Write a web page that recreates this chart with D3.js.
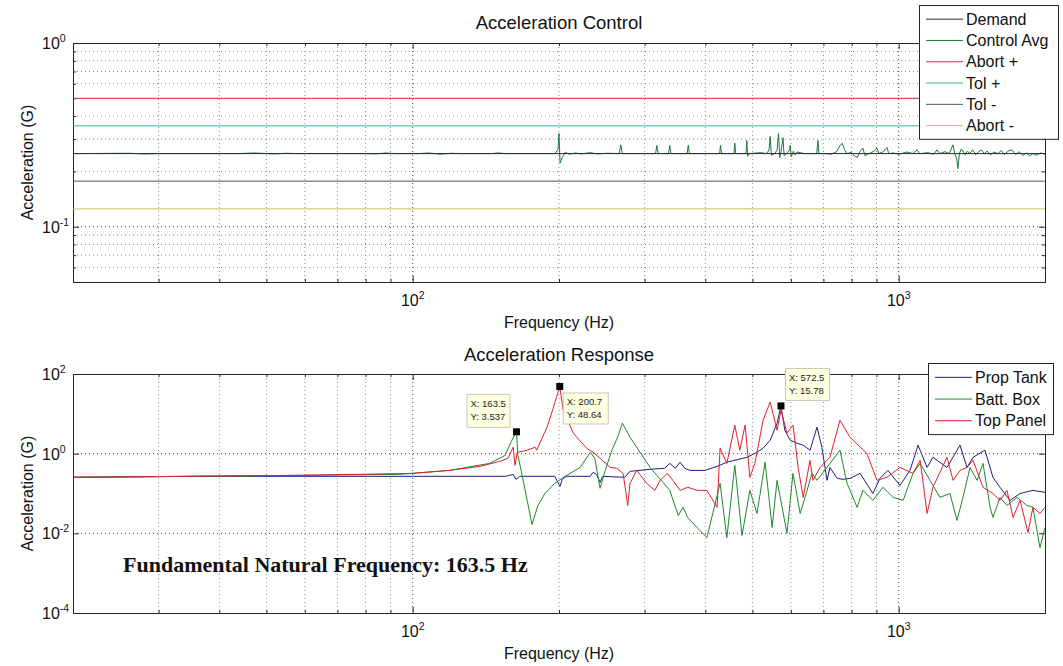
<!DOCTYPE html>
<html lang="en">
<head>
<meta charset="UTF-8">
<title>Acceleration Control / Acceleration Response</title>
<style>
  body { margin: 0; background: #fff; }
  svg { display: block; font-family: "Liberation Sans", Arial, sans-serif; }
  .grid { stroke: #8a8a8a; stroke-dasharray: 1,3; stroke-width: 1; }
  .grid-major { stroke: #444; stroke-dasharray: 1,3; stroke-width: 1; }
  .frame { fill: none; stroke: #262626; stroke-width: 1; }
  .trace { fill: none; stroke-width: 1; }
  .ttl { font-size: 18.5px; text-anchor: middle; fill: #111; }
  .lbl { font-size: 16px; text-anchor: middle; fill: #111; }
  .tick-lbl { font-size: 16px; fill: #111; }
  .legend-box { fill: #fff; stroke: #262626; stroke-width: 1; }
  .legend-txt { font-size: 16px; fill: #111; }
  .tip-box { fill: #ffffe1; stroke: #c8c8b4; stroke-width: 1; }
  .tip-txt { font-size: 9.5px; fill: #222; }
</style>
</head>
<body>
<svg width="1063" height="666"></svg>

<script src="https://d3js.org/d3.v7.min.js"></script>
<script>
    // ---- data ----
    const freqDomain = [20, 2000];
    const xMajor = [100, 1000];
    const xMinor = [30, 40, 50, 60, 70, 80, 90, 200, 300, 400, 500, 600, 700, 800, 900];
    const xTickExp = ["2", "3"];

    const topYDomain = [0.05, 1];
    const topYMajor = [0.1, 1];
    const topYMinor = [0.06, 0.07, 0.08, 0.09, 0.2, 0.3, 0.4, 0.5, 0.6, 0.7, 0.8, 0.9];
    const topYTickExp = ["-1", "0"];

    const botYDomain = [1e-4, 1e2];
    const botYMajor = [1e-4, 1e-2, 1, 1e2];
    const botYTickExp = ["-4", "-2", "0", "2"];

    // control levels (G): demand, abort +/- 6 dB, tolerance +/- 3 dB
    const demandLevel = 0.25;
    const abortPlus = 0.5;
    const tolPlus = 0.354;
    const tolMinus = 0.177;
    const abortMinus = 0.125;

    const controlNames = ["Demand", "Control Avg", "Abort +", "Tol +", "Tol -", "Abort -"];
    const responseNames = ["Prop Tank", "Batt. Box", "Top Panel"];

    // [frequency Hz, acceleration G]
    const controlAvg = [
        [20,0.25],[26,0.251],[28,0.249],[30,0.25],[44,0.25],[47,0.252],[52,0.249],[55,0.251],[58,0.25],
        [80,0.25],[84,0.249],[88,0.252],[92,0.25],[103,0.25],[108,0.252],[114,0.248],[120,0.251],[126,0.25],
        [145,0.25],[150,0.252],[155,0.25],[196,0.25],[199,0.262],[200,0.322],[201,0.222],[203,0.238],
        [206,0.254],[210,0.248],[216,0.252],[222,0.249],[232,0.253],[240,0.249],[252,0.251],[266,0.25],
        [268,0.279],[270,0.25],[316,0.25],[318,0.277],[320,0.25],[336,0.25],[338,0.277],[340,0.25],
        [367,0.25],[369,0.278],[371,0.25],[410,0.25],[428,0.25],[430,0.277],[432,0.25],[458,0.25],
        [460,0.285],[462,0.25],[485,0.25],[487,0.295],[489,0.242],[492,0.25],[520,0.253],[535,0.25],
        [541,0.262],[544,0.31],[547,0.245],[556,0.25],[562,0.262],[566,0.322],[569,0.238],[573,0.258],
        [578,0.305],[581,0.244],[590,0.252],[596,0.262],[598,0.277],[601,0.24],[607,0.258],[612,0.246],
        [618,0.255],[640,0.25],[678,0.25],[682,0.295],[685,0.25],[705,0.25],[725,0.248],[745,0.256],
        [758,0.278],[766,0.284],[774,0.262],[782,0.25],[800,0.254],[812,0.242],[822,0.238],[832,0.256],
        [844,0.268],[852,0.244],[868,0.25],[880,0.254],[893,0.26],[902,0.268],[910,0.25],[930,0.256],
        [946,0.27],[954,0.25],[975,0.252],[1000,0.248],[1040,0.255],[1070,0.25],[1091,0.262],[1105,0.25],
        [1150,0.253],[1180,0.248],[1199,0.262],[1215,0.25],[1245,0.256],[1270,0.25],[1285,0.268],
        [1293,0.279],[1305,0.248],[1316,0.235],[1324,0.207],[1333,0.25],[1345,0.265],[1356,0.258],
        [1370,0.246],[1385,0.258],[1400,0.25],[1420,0.262],[1440,0.246],[1460,0.256],[1480,0.262],
        [1500,0.25],[1520,0.258],[1545,0.246],[1570,0.255],[1600,0.25],[1625,0.26],[1650,0.247],
        [1680,0.258],[1710,0.262],[1740,0.247],[1770,0.256],[1800,0.244],[1830,0.252],[1860,0.243],
        [1890,0.25],[1920,0.245],[1960,0.252],[2000,0.248]
    ];

    const propTank = [
        [20,0.255],[36.5,0.27],[58.6,0.27],[100,0.27],[155,0.27],[161,0.30],[163,0.227],[166,0.27],
        [196,0.27],[199,0.19],[201,0.151],[203,0.227],[207,0.27],[232,0.27],[235,0.34],[239,0.30],
        [243,0.19],[246,0.27],[273,0.255],[280,0.36],[308,0.405],[330,0.43],[338,0.57],[347,0.43],
        [355,0.61],[363,0.43],[372,0.38],[399,0.38],[423,0.48],[443,0.61],[487,0.81],[511,1.08],
        [526,1.37],[544,2.18],[562,5.83],[572.5,15.78],[583,3.88],[598,2.18],[618,1.83],[636,1.63],
        [657,1.22],[679,4.62],[695,1.45],[712,0.214],[722,0.45],[747,0.24],[768,0.227],[794,0.24],
        [833,0.32],[885,0.10],[915,0.24],[950,0.38],[1006,0.16],[1055,0.38],[1096,1.63],[1144,0.45],
        [1176,0.81],[1257,0.45],[1337,1.63],[1382,0.45],[1422,0.81],[1505,1.22],[1563,0.255],
        [1616,0.143],[1694,0.067],[1777,0.10],[1889,0.12],[2000,0.107]
    ];

    const battBox = [
        [20,0.255],[58.6,0.286],[94,0.303],[119,0.38],[144,0.57],[155,0.91],[160,2.18],[163.5,3.537],
        [164.6,0.91],[168,0.286],[172,0.067],[176,0.0167],[181,0.05],[187,0.10],[196,0.18],[206,0.27],
        [221,0.45],[232,1.08],[237,0.765],[243,0.135],[249,0.38],[257,1.22],[265,2.90],[270,5.83],
        [280,2.59],[308,0.45],[338,0.12],[352,0.028],[360,0.045],[368,0.025],[390,0.0118],[403,0.0078],
        [429,0.18],[443,0.0078],[460,0.51],[476,0.0088],[494,0.12],[511,0.0315],[531,0.61],[549,0.014],
        [562,0.214],[589,0.01],[606,0.32],[627,0.0315],[648,0.12],[663,0.32],[679,0.214],[722,0.57],
        [757,1.22],[783,0.18],[821,0.045],[844,0.12],[885,0.067],[928,0.143],[974,0.08],[1021,0.067],
        [1070,0.32],[1107,0.57],[1160,0.214],[1216,0.08],[1275,0.10],[1318,0.021],[1356,0.08],
        [1402,0.45],[1450,0.214],[1491,0.57],[1542,0.045],[1563,0.025],[1616,0.08],[1670,0.05],
        [1752,0.08],[1836,0.05],[1889,0.045],[1953,0.0044],[2000,0.014]
    ];

    const topPanel = [
        [20,0.255],[58.6,0.286],[100,0.32],[119,0.38],[137.5,0.48],[151,0.64],[157,0.765],[161,1.45],
        [162.4,0.51],[164,1.08],[172,1.22],[178.6,1.45],[180,1.22],[181,1.45],[189,4.62],[194,12.4],
        [200.7,48.64],[204,12.4],[214,3.27],[228,1.37],[235,1.08],[243,0.765],[255,0.45],[263,0.43],
        [271,0.32],[277,0.05],[280,0.18],[289,0.38],[303,0.18],[315,0.12],[323,0.214],[334,0.32],
        [343,0.214],[355,0.12],[368,0.143],[385,0.12],[403,0.12],[423,0.045],[429,1.37],[443,0.57],
        [460,5.19],[471,1.22],[483,5.19],[494,0.255],[506,0.57],[526,6.94],[544,19.7],[562,3.88],
        [572.5,12.4],[589,3.27],[606,5.19],[621,0.45],[636,0.08],[657,0.68],[666,0.214],[689,0.45],
        [722,0.81],[757,6.94],[794,2.59],[805,2.18],[860,1.02],[902,0.214],[946,0.255],[1006,0.45],
        [1070,0.32],[1107,0.68],[1144,0.0315],[1176,0.143],[1257,0.81],[1294,0.214],[1337,0.38],
        [1382,0.45],[1422,0.68],[1491,0.143],[1563,0.10],[1616,0.067],[1670,0.12],[1719,0.025],
        [1777,0.067],[1845,0.0105],[1889,0.045],[1953,0.0315],[2000,0.045]
    ];

    // data cursors: [frequency, value]
    const dataTips = [[163.5, 3.537], [200.7, 48.64], [572.5, 15.78]];

    // ---- styles ----
    const controlColors = ["#2a2a2a", "#1d7a3c", "#c8324e", "#3aaea6", "#555555", "#c9c34a"];
    const responseColors = ["#1c1c8c", "#1a8a2a", "#e0202a"];

    const svg = d3.select("svg");
    const left = 73, right = 1045;
    const x = d3.scaleLog().domain(freqDomain).range([left, right]);
    const yTop = d3.scaleLog().domain(topYDomain).range([282, 43]);
    const yBot = d3.scaleLog().domain(botYDomain).range([613, 374]);

    function powText(sel, exp) {
        sel.append("tspan").text("10");
        sel.append("tspan").attr("dy", -7).attr("font-size", "10.5px").text(exp);
    }

    function drawAxes(y, yMinor, yMajor, yExp, id) {
        const [bottom, top] = y.range();
        const g = svg.append("g");

        // grid
        g.selectAll(null).data(xMinor).join("line").attr("class", "grid")
            .attr("x1", d => x(d)).attr("x2", d => x(d)).attr("y1", top).attr("y2", bottom);
        g.selectAll(null).data(xMajor).join("line").attr("class", "grid-major")
            .attr("x1", d => x(d)).attr("x2", d => x(d)).attr("y1", top).attr("y2", bottom);
        g.selectAll(null).data(yMinor).join("line").attr("class", "grid")
            .attr("x1", left).attr("x2", right).attr("y1", d => y(d)).attr("y2", d => y(d));
        g.selectAll(null).data(yMajor.filter(d => y(d) > top + 1 && y(d) < bottom - 1)).join("line")
            .attr("class", "grid-major")
            .attr("x1", left).attr("x2", right).attr("y1", d => y(d)).attr("y2", d => y(d));

        // ticks, inside the box on all four sides
        const tk = (axis, vals, len, tr) => g.append("g").attr("transform", tr).attr("color", "#262626")
            .call(axis.tickValues(vals).tickSize(-len).tickFormat(""))
            .call(a => a.select(".domain").remove());
        tk(d3.axisBottom(x), xMinor, 3, `translate(0,${bottom})`);
        tk(d3.axisBottom(x), xMajor, 6, `translate(0,${bottom})`);
        tk(d3.axisTop(x), xMinor, 3, `translate(0,${top})`);
        tk(d3.axisTop(x), xMajor, 6, `translate(0,${top})`);
        tk(d3.axisLeft(y), yMinor, 3, `translate(${left},0)`);
        tk(d3.axisLeft(y), yMajor, 6, `translate(${left},0)`);
        tk(d3.axisRight(y), yMinor, 3, `translate(${right},0)`);
        tk(d3.axisRight(y), yMajor, 6, `translate(${right},0)`);

        g.append("rect").attr("class", "frame")
            .attr("x", left + 0.5).attr("y", top + 0.5)
            .attr("width", right - left).attr("height", bottom - top);

        // tick labels
        g.selectAll(null).data(yMajor).join("text").attr("class", "tick-lbl")
            .attr("x", 42).attr("y", d => y(d) + 6)
            .each(function (d, i) { powText(d3.select(this), yExp[i]); });
        g.selectAll(null).data(xMajor).join("text").attr("class", "tick-lbl")
            .attr("text-anchor", "middle")
            .attr("x", d => x(d)).attr("y", bottom + 24)
            .each(function (d, i) { powText(d3.select(this), xTickExp[i]); });

        // axis labels
        g.append("text").attr("class", "lbl")
            .attr("x", (left + right) / 2).attr("y", bottom + 46).text("Frequency (Hz)");
        g.append("text").attr("class", "lbl")
            .attr("transform", `translate(33,${(top + bottom) / 2}) rotate(-90)`)
            .text("Acceleration (G)");

        svg.append("clipPath").attr("id", id).append("rect")
            .attr("x", left).attr("y", top).attr("width", right - left).attr("height", bottom - top);
        return svg.append("g").attr("clip-path", `url(#${id})`);
    }

    function legend(x0, y0, w, rowH, names, colors) {
        const g = svg.append("g");
        g.append("rect").attr("class", "legend-box")
            .attr("x", x0 + 0.5).attr("y", y0 + 0.5).attr("width", w).attr("height", rowH * names.length + 6);
        const row = g.selectAll(null).data(names).join("g")
            .attr("transform", (d, i) => `translate(${x0},${y0 + 3 + rowH * (i + 0.5)})`);
        row.append("line").attr("x1", 7).attr("x2", 44).attr("y1", 0.5).attr("y2", 0.5)
            .attr("stroke", (d, i) => colors[i]).attr("stroke-width", 1);
        row.append("text").attr("class", "legend-txt").attr("x", 47).attr("y", 6).text(d => d);
    }

    // ---- top: Acceleration Control ----
    svg.append("text").attr("class", "ttl").attr("x", (left + right) / 2).attr("y", 29)
        .text("Acceleration Control");
    const topPlot = drawAxes(yTop, topYMinor, topYMajor, topYTickExp, "clipTop");
    const lineTop = d3.line().x(d => x(d[0])).y(d => yTop(d[1]));
    const levels = [abortPlus, tolPlus, tolMinus, abortMinus];
    topPlot.append("path").attr("class", "trace").attr("stroke", controlColors[1]).attr("d", lineTop(controlAvg));
    topPlot.append("path").attr("class", "trace").attr("stroke", controlColors[0])
        .attr("d", lineTop(freqDomain.map(f => [f, demandLevel])));
    levels.forEach((v, i) => {
        topPlot.append("path").attr("class", "trace").attr("stroke", controlColors[i + 2])
            .attr("d", lineTop(freqDomain.map(f => [f, v])));
    });
    legend(919, 5, 139, 21.3, controlNames, controlColors);

    // ---- bottom: Acceleration Response ----
    svg.append("text").attr("class", "ttl").attr("x", (left + right) / 2).attr("y", 361)
        .text("Acceleration Response");
    const botPlot = drawAxes(yBot, [], botYMajor, botYTickExp, "clipBot");
    const lineBot = d3.line().x(d => x(d[0])).y(d => yBot(d[1]));
    [propTank, battBox, topPanel].forEach((s, i) => {
        botPlot.append("path").attr("class", "trace").attr("stroke", responseColors[i]).attr("d", lineBot(s));
    });
    legend(928, 363, 125, 21.7, responseNames, responseColors);

    // data cursors: box offset from the marker (dx, dy, w, h)
    const tipBoxes = [[-50, -38, 43, 33], [3, 6, 45, 31], [4, -38, 44, 32]];
    dataTips.forEach((t, i) => {
        const px = x(t[0]), py = yBot(t[1]);
        const [dx, dy, w, h] = tipBoxes[i];
        const g = svg.append("g");
        g.append("rect").attr("class", "tip-box")
            .attr("x", px + dx + 0.5).attr("y", py + dy + 0.5).attr("width", w).attr("height", h);
        g.append("text").attr("class", "tip-txt").attr("x", px + dx + 4).attr("y", py + dy + 13)
            .text("X: " + t[0]);
        g.append("text").attr("class", "tip-txt").attr("x", px + dx + 4).attr("y", py + dy + 26)
            .text("Y: " + t[1]);
        g.append("rect").attr("x", px - 3.5).attr("y", py - 3.5).attr("width", 7).attr("height", 7)
            .attr("fill", "#000");
    });

    svg.append("text").attr("x", 123).attr("y", 572)
        .attr("font-family", "'Liberation Serif', 'Times New Roman', serif")
        .attr("font-weight", "bold").attr("font-size", "22px").attr("fill", "#111")
        .text("Fundamental Natural Frequency: 163.5 Hz");
</script>
</body>
</html>
